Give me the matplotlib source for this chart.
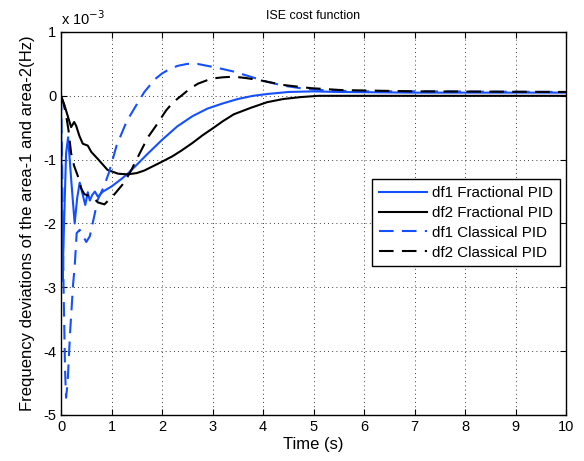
import numpy as np
import matplotlib
matplotlib.use('Agg')
import matplotlib.pyplot as plt

plt.rcParams['font.family'] = ['Liberation Sans', 'DejaVu Sans']
plt.rcParams['axes.unicode_minus'] = False

# values (y in units of 1e-3 Hz)
t_df1_frac = [0, 0.01, 0.03, 0.06, 0.1, 0.14, 0.2, 0.27, 0.32, 0.37, 0.43, 0.48,
              0.53, 0.57, 0.62, 0.67, 0.73, 0.83, 1.0, 1.2, 1.32, 1.45, 1.7, 2.0,
              2.3, 2.6, 2.9, 3.2, 3.5, 3.8, 4.1, 4.5, 5.0, 5.5, 7, 10]
y_df1_frac = [0, -1.2, -2.9, -2.0, -0.9, -0.65, -1.3, -2.0, -1.6, -1.36, -1.55, -1.71,
              -1.51, -1.64, -1.55, -1.5, -1.58, -1.5, -1.42, -1.3, -1.22, -1.12, -0.92, -0.69,
              -0.48, -0.32, -0.2, -0.12, -0.05, 0.0, 0.03, 0.06, 0.07, 0.06, 0.05, 0.05]

t_df2_frac = [0, 0.07, 0.13, 0.2, 0.26, 0.3, 0.36, 0.43, 0.53, 0.6, 0.73, 0.92,
              1.13, 1.32, 1.5, 1.65, 1.98, 2.2, 2.38, 2.6, 2.8, 3.04, 3.2, 3.42,
              3.75, 4.08, 4.4, 4.74, 5.1, 6, 10]
y_df2_frac = [0, -0.15, -0.31, -0.49, -0.41, -0.47, -0.62, -0.75, -0.78, -0.88, -0.99, -1.16,
              -1.22, -1.23, -1.21, -1.17, -1.04, -0.95, -0.86, -0.74, -0.62, -0.49, -0.4, -0.29,
              -0.19, -0.1, -0.05, -0.02, 0.0, 0.0, 0.0]

t_df1_class = [0, 0.02, 0.05, 0.08, 0.1, 0.13, 0.18, 0.24, 0.27, 0.31, 0.37, 0.44,
               0.5, 0.57, 0.67, 0.72, 0.85, 0.95, 1.1, 1.3, 1.45, 1.65, 1.86, 2.0,
               2.15, 2.31, 2.5, 2.7, 2.96, 3.2, 3.42, 3.75, 4.08, 4.4, 4.74, 5.0,
               5.4, 6.0, 7.0, 10]
y_df1_class = [0, -1.0, -3.0, -4.3, -4.73, -4.5, -3.7, -2.94, -2.68, -2.15, -2.1, -2.2,
               -2.29, -2.2, -1.84, -1.64, -1.42, -1.2, -0.78, -0.4, -0.2, 0.06, 0.26, 0.35,
               0.42, 0.47, 0.5, 0.5, 0.46, 0.42, 0.38, 0.3, 0.22, 0.16, 0.12, 0.1,
               0.08, 0.07, 0.07, 0.06]

t_df2_class = [0, 0.05, 0.1, 0.15, 0.2, 0.26, 0.33, 0.4, 0.46, 0.63, 0.73, 0.86,
               1.06, 1.26, 1.4, 1.52, 1.72, 1.88, 2.08, 2.22, 2.38, 2.55, 2.71, 2.98,
               3.2, 3.42, 3.65, 3.9, 4.4, 4.95, 5.55, 7, 10]
y_df2_class = [0, -0.12, -0.3, -0.55, -0.9, -1.1, -1.25, -1.45, -1.54, -1.59, -1.67, -1.7,
               -1.54, -1.35, -1.15, -0.96, -0.65, -0.47, -0.23, -0.1, 0.0, 0.11, 0.19, 0.27,
               0.29, 0.3, 0.28, 0.25, 0.17, 0.12, 0.09, 0.07, 0.06]

blue = '#1450ff'
dash = (7, 4)

fig = plt.figure(figsize=(5.84, 4.61), dpi=100)
ax = fig.add_axes([0.1045, 0.0998, 0.8647, 0.8308])

ax.plot(t_df1_frac, y_df1_frac, color=blue, lw=1.5, label='df1 Fractional PID')
ax.plot(t_df2_frac, y_df2_frac, color='k', lw=1.5, label='df2 Fractional PID')
ax.plot(t_df1_class, y_df1_class, color=blue, lw=1.5, dashes=dash, label='df1 Classical PID')
ax.plot(t_df2_class, y_df2_class, color='k', lw=1.5, dashes=dash, label='df2 Classical PID')

ax.set_xlim(0, 10)
ax.set_ylim(-5, 1)
ax.set_xticks(range(0, 11))
ax.set_yticks(range(-5, 2))
ax.tick_params(direction='in', top=True, right=True, labelsize=10.5, length=4)
ax.grid(True, color='k', linestyle=(0, (1, 4)), linewidth=0.6)
for s in ax.spines.values():
    s.set_linewidth(1.0)

ax.set_title('ISE cost function', fontsize=9, pad=9)
ax.set_xlabel('Time (s)', fontsize=12, labelpad=2)
ax.set_ylabel('Frequency deviations of the area-1 and area-2(Hz)', fontsize=12, labelpad=6)
ax.text(0.0, 1.01, r'x 10$^{-3}$', transform=ax.transAxes, fontsize=10.5, va='bottom')

leg = ax.legend(loc='upper left', bbox_to_anchor=(0.616, 0.615), fontsize=10.9,
                fancybox=False, edgecolor='k', framealpha=1, borderaxespad=0,
                handlelength=3.2, labelspacing=0.38, handletextpad=0.3,
                borderpad=0.45)
leg.get_frame().set_linewidth(1.0)

fig.savefig('out.png', dpi=100)
